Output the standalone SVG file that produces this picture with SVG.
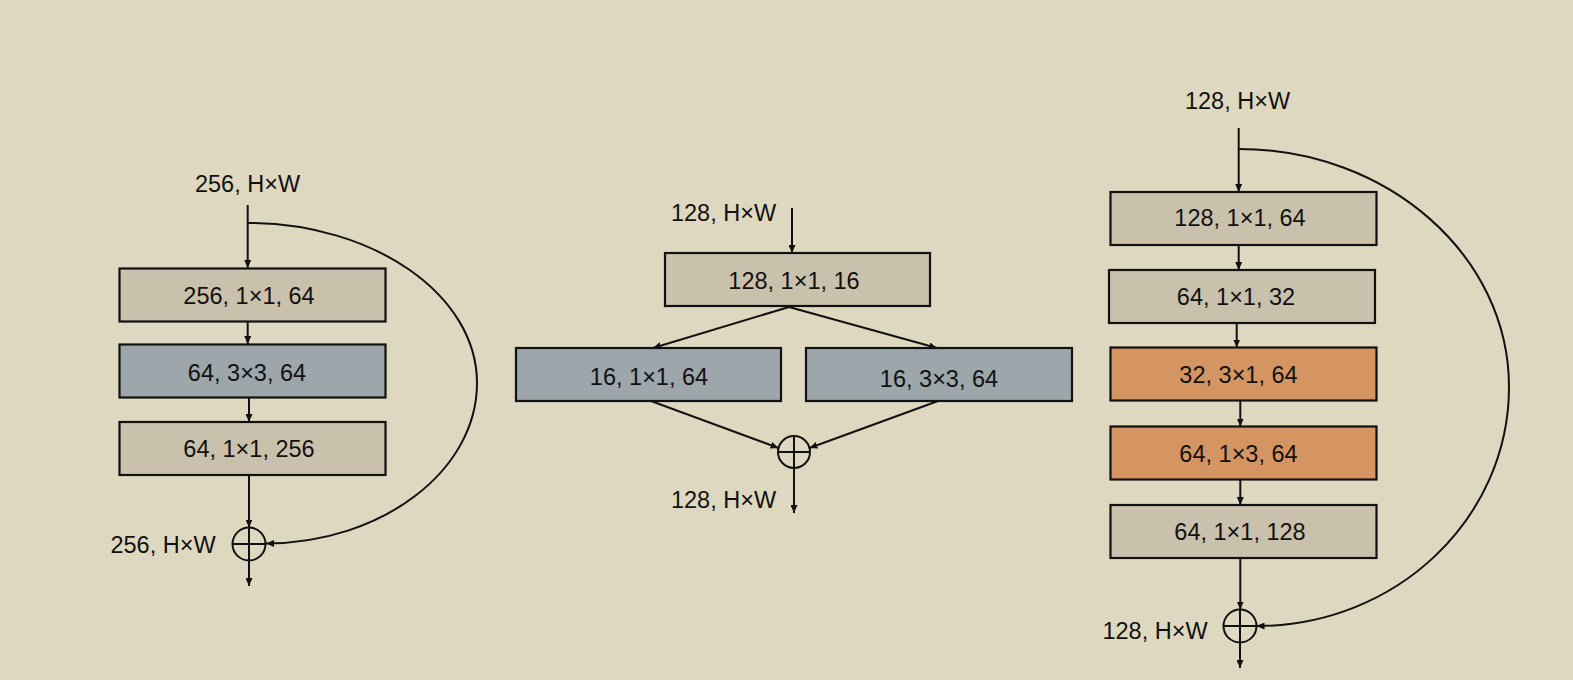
<svg xmlns="http://www.w3.org/2000/svg" width="1573" height="680" viewBox="0 0 1573 680">
<style>
.bg{fill:#DFD8C0}
.box{stroke:#111;stroke-width:2.2}
.tan{fill:#C9C1AC}
.blue{fill:#9CA6AB}
.orange{fill:#D49563}
.t{font-family:"Liberation Sans",Arial,sans-serif;font-size:23.5px;fill:#111;text-anchor:middle}
.ln{stroke:#111;stroke-width:2;fill:none}
.arr{stroke:#111;stroke-width:2;fill:none;marker-end:url(#ah)}
.sum{stroke:#111;stroke-width:2;fill:none}
</style>
<defs>
<marker id="ah" viewBox="0 0 8 7" refX="8" refY="3.5" markerWidth="8" markerHeight="7" markerUnits="userSpaceOnUse" orient="auto">
<path d="M0,0 L8,3.5 L0,7 z" fill="#111"/>
</marker>
</defs>
<rect class="bg" x="0" y="0" width="1573" height="680"/>

<!-- Left block -->
<g id="left-in"><text class="t" x="247.5" y="192">256, H×W</text></g>
<g id="left-b1"><rect class="box tan" x="119.5" y="268.5" width="266" height="53"/><text class="t" x="249" y="304">256, 1×1, 64</text></g>
<g id="left-b2"><rect class="box blue" x="119.5" y="344.5" width="266" height="53"/><text class="t" x="247" y="380.5">64, 3×3, 64</text></g>
<g id="left-b3"><rect class="box tan" x="119.5" y="422" width="266" height="53"/><text class="t" x="249" y="456.5">64, 1×1, 256</text></g>
<g id="left-sum"><circle class="sum" cx="249" cy="544" r="16.5"/><line class="sum" x1="232.5" y1="544" x2="265.5" y2="544"/><line class="sum" x1="249" y1="527.5" x2="249" y2="560.5"/></g>
<g id="left-out"><text class="t" x="163" y="552.5">256, H×W</text></g>

<!-- Middle block -->
<g id="mid-in"><text class="t" x="723.5" y="221">128, H×W</text></g>
<g id="mid-b1"><rect class="box tan" x="665" y="253" width="265" height="53"/><text class="t" x="794" y="288.5">128, 1×1, 16</text></g>
<g id="mid-b2"><rect class="box blue" x="516" y="348" width="265" height="53"/><text class="t" x="649" y="385">16, 1×1, 64</text></g>
<g id="mid-b3"><rect class="box blue" x="806" y="348" width="266" height="53"/><text class="t" x="939" y="386.5">16, 3×3, 64</text></g>
<g id="mid-sum"><circle class="sum" cx="794" cy="452" r="16"/><line class="sum" x1="778" y1="452" x2="810" y2="452"/><line class="sum" x1="794" y1="436" x2="794" y2="468"/></g>
<g id="mid-out"><text class="t" x="723.5" y="508">128, H×W</text></g>

<!-- Right block -->
<g id="right-in"><text class="t" x="1237.5" y="109">128, H×W</text></g>
<g id="right-b1"><rect class="box tan" x="1110.5" y="192" width="266" height="53"/><text class="t" x="1240" y="226">128, 1×1, 64</text></g>
<g id="right-b2"><rect class="box tan" x="1109" y="270" width="266" height="53"/><text class="t" x="1236" y="304.5">64, 1×1, 32</text></g>
<g id="right-b3"><rect class="box orange" x="1110.5" y="347.5" width="266" height="53"/><text class="t" x="1238.5" y="382.5">32, 3×1, 64</text></g>
<g id="right-b4"><rect class="box orange" x="1110.5" y="426.5" width="266" height="53"/><text class="t" x="1238.5" y="461.5">64, 1×3, 64</text></g>
<g id="right-b5"><rect class="box tan" x="1110.5" y="505" width="266" height="53"/><text class="t" x="1240" y="540">64, 1×1, 128</text></g>
<g id="right-sum"><circle class="sum" cx="1240" cy="626" r="16.5"/><line class="sum" x1="1223.5" y1="626" x2="1256.5" y2="626"/><line class="sum" x1="1240" y1="609.5" x2="1240" y2="642.5"/></g>
<g id="right-out"><text class="t" x="1155" y="639">128, H×W</text></g>

<g id="connectors">
<!-- left -->
<line class="arr" x1="247.7" y1="205" x2="247.7" y2="268"/>
<line class="arr" x1="247.7" y1="322" x2="247.7" y2="344"/>
<line class="arr" x1="249" y1="398" x2="249" y2="422"/>
<line class="arr" x1="249" y1="475" x2="249" y2="527.5"/>
<line class="arr" x1="249" y1="560.5" x2="249" y2="586"/>
<path class="arr" d="M247.7,223 C374,223 477,295 477,383 C477,471 382,543 266,543.5"/>
<!-- middle -->
<line class="arr" x1="792" y1="208" x2="792" y2="253"/>
<line class="arr" x1="789" y1="307" x2="653" y2="348"/>
<line class="arr" x1="789" y1="307" x2="937" y2="348"/>
<line class="arr" x1="651" y1="401" x2="778.5" y2="448"/>
<line class="arr" x1="938" y1="401" x2="809.5" y2="448"/>
<line class="arr" x1="794" y1="468" x2="794" y2="513"/>
<!-- right -->
<line class="arr" x1="1238.7" y1="128" x2="1238.7" y2="192"/>
<line class="arr" x1="1238.7" y1="245" x2="1238.7" y2="270"/>
<line class="arr" x1="1236.7" y1="323" x2="1236.7" y2="347.5"/>
<line class="arr" x1="1240.3" y1="400.5" x2="1240.3" y2="426.5"/>
<line class="arr" x1="1240.3" y1="479.5" x2="1240.3" y2="505"/>
<line class="arr" x1="1240.3" y1="558" x2="1240.3" y2="609.5"/>
<line class="arr" x1="1240" y1="642.5" x2="1240" y2="668"/>
<path class="arr" d="M1238.7,149 C1388,149 1509,256 1509,387 C1509,518 1397,626 1256.5,626"/>
</g>
</svg>
